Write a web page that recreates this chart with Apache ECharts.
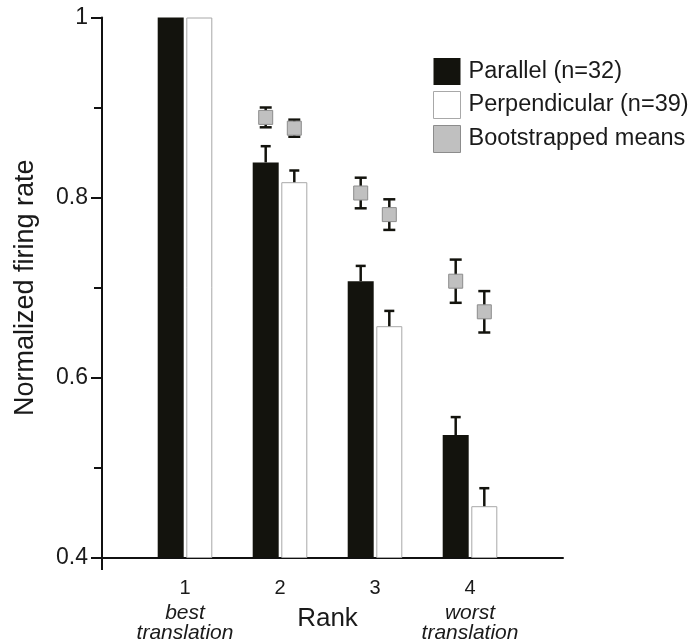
<!DOCTYPE html>
<html>
<head>
<meta charset="utf-8">
<script src="https://cdn.jsdelivr.net/npm/echarts@6/dist/echarts.min.js"></script>
<style>html,body{margin:0;padding:0;background:#fff;}#c{width:694px;height:644px;}</style>
</head>
<body>
<div id="c"></div>
<script>
// ---- data ----
const ranks = ['1', '2', '3', '4'];
const rankNotes = ['best\ntranslation', '', '', 'worst\ntranslation'];
const parallel = [1.0, 0.839, 0.707, 0.536];
const parallelErr = [0, 0.018, 0.017, 0.020];
const perpendicular = [1.0, 0.817, 0.657, 0.457];
const perpendicularErr = [0, 0.013, 0.017, 0.020];
const bootParallel = [null, 0.889, 0.805, 0.707];
const bootParallelErr = [null, 0.011, 0.017, 0.024];
const bootPerpendicular = [null, 0.877, 0.781, 0.673];
const bootPerpendicularErr = [null, 0.0095, 0.017, 0.023];
const yTicks = [0.4, 0.6, 0.8, 1];

const FONT = '"Liberation Sans", Arial, sans-serif';
const INK = '#13130d';
const BAR_W = 26, GAP = 2.6;
const OFF = (BAR_W + GAP) / 2;

const errData = [];
const bootData = [];
ranks.forEach((r, i) => {
  if (parallelErr[i] > 0) errData.push([i, parallel[i], parallelErr[i], -1]);
  if (perpendicularErr[i] > 0) errData.push([i, perpendicular[i], perpendicularErr[i], 1]);
  if (bootParallel[i] != null) bootData.push([i, bootParallel[i], bootParallelErr[i], -1]);
  if (bootPerpendicular[i] != null) bootData.push([i, bootPerpendicular[i], bootPerpendicularErr[i], 1]);
});

const chart = echarts.init(document.getElementById('c'), null, {renderer: 'canvas'});

const option = {
  animation: false,
  backgroundColor: '#fff',
  textStyle: {fontFamily: FONT, color: '#1a1a1a'},
  legend: {
    orient: 'vertical', left: 428, top: 53,
    itemWidth: 27, itemHeight: 27, itemGap: 6,
    textStyle: {fontSize: 23.5, fontFamily: FONT, color: '#1a1a1a', padding: [0, 0, 0, 3]},
    data: [
      {name: 'Parallel (n=32)', icon: 'rect', itemStyle: {color: INK, borderWidth: 0}},
      {name: 'Perpendicular (n=39)', icon: 'rect', itemStyle: {color: '#fff', borderColor: '#a8a8a8', borderWidth: 1}},
      {name: 'Bootstrapped means', icon: 'rect', itemStyle: {color: '#c0c0c0', borderColor: '#8c8c8c', borderWidth: 1}}
    ]
  },
  grid: [
    {left: 102, right: 131, top: 17.5, bottom: 86},
    {left: 137.5, right: 176.5, top: 17.5, bottom: 86}
  ],
  xAxis: [
    {
      gridIndex: 0, type: 'value', min: 0, max: 1,
      axisLine: {show: true, lineStyle: {color: '#111', width: 2}},
      axisTick: {show: false}, axisLabel: {show: false}, splitLine: {show: false},
      name: 'Rank', nameLocation: 'middle', nameGap: 48,
      nameTextStyle: {fontSize: 26, fontFamily: FONT, color: '#1a1a1a', padding: [0, 10, 0, 0]}
    },
    {
      gridIndex: 1, type: 'category', data: ranks,
      axisLine: {show: false}, axisTick: {show: false}, splitLine: {show: false},
      axisLabel: {
        margin: 15, interval: 0,
        formatter: function (v, i) {
          let s = '{n|' + v + '}';
          if (rankNotes[i]) s += '\n' + rankNotes[i].split('\n').map(t => '{i|' + t + '}').join('\n');
          return s;
        },
        rich: {
          n: {fontSize: 20, lineHeight: 31, fontFamily: FONT, color: '#1a1a1a'},
          i: {fontSize: 21, lineHeight: 20, fontStyle: 'italic', fontFamily: FONT, color: '#1a1a1a'}
        }
      }
    }
  ],
  yAxis: [
    {
      gridIndex: 0, type: 'value', min: 0.4, max: 1, interval: 0.2,
      axisLine: {show: true, lineStyle: {color: '#111', width: 2}},
      axisTick: {show: true, length: 11, lineStyle: {color: '#111', width: 2}},
      minorTick: {show: true, splitNumber: 2, length: 8, lineStyle: {color: '#111', width: 2}},
      splitLine: {show: false},
      axisLabel: {
        fontSize: 23, margin: 14, color: '#1a1a1a', fontFamily: FONT,
        formatter: function (v) {
          const t = yTicks.find(x => Math.abs(x - v) < 1e-6);
          return t === undefined ? '' : String(t);
        }
      },
      name: 'Normalized firing rate', nameLocation: 'middle', nameGap: 63,
      nameTextStyle: {fontSize: 27, fontFamily: FONT, color: '#1a1a1a'}
    },
    {
      gridIndex: 1, type: 'value', min: 0.4, max: 1, interval: 0.2, show: false
    }
  ],
  series: [
    {
      name: 'Parallel (n=32)', type: 'bar', xAxisIndex: 1, yAxisIndex: 1,
      data: parallel, barWidth: BAR_W, barGap: '10%',
      itemStyle: {color: INK}
    },
    {
      name: 'Perpendicular (n=39)', type: 'bar', xAxisIndex: 1, yAxisIndex: 1,
      data: perpendicular, barWidth: BAR_W, barGap: '10%',
      itemStyle: {color: '#fff', borderColor: '#a8a8a8', borderWidth: 1}
    },
    {
      name: 'errors', type: 'custom', xAxisIndex: 1, yAxisIndex: 1, z: 5,
      data: errData,
      renderItem: function (params, api) {
        const i = api.value(0), v = api.value(1), e = api.value(2), side = api.value(3);
        const base = api.coord([i, v]);
        const top = api.coord([i, v + e]);
        const x = base[0] + side * OFF;
        const st = {stroke: INK, lineWidth: 2.5};
        return {
          type: 'group',
          children: [
            {type: 'line', shape: {x1: x, y1: base[1], x2: x, y2: top[1]}, style: st},
            {type: 'line', shape: {x1: x - 5, y1: top[1], x2: x + 5, y2: top[1]}, style: st}
          ]
        };
      }
    },
    {
      name: 'Bootstrapped means', type: 'custom', xAxisIndex: 1, yAxisIndex: 1, z: 6,
      data: bootData,
      itemStyle: {color: '#c0c0c0'},
      renderItem: function (params, api) {
        const i = api.value(0), v = api.value(1), e = api.value(2), side = api.value(3);
        const c = api.coord([i, v]);
        const hi = api.coord([i, v + e]);
        const lo = api.coord([i, v - e]);
        const x = c[0] + side * OFF;
        const st = {stroke: INK, lineWidth: 2.5};
        return {
          type: 'group',
          children: [
            {type: 'line', shape: {x1: x, y1: hi[1], x2: x, y2: lo[1]}, style: st},
            {type: 'line', shape: {x1: x - 6, y1: hi[1], x2: x + 6, y2: hi[1]}, style: st},
            {type: 'line', shape: {x1: x - 6, y1: lo[1], x2: x + 6, y2: lo[1]}, style: st},
            {type: 'rect', shape: {x: x - 7, y: c[1] - 7, width: 14, height: 14},
             style: {fill: '#c0c0c0', stroke: '#8c8c8c', lineWidth: 1}}
          ]
        };
      }
    }
  ]
};
chart.setOption(option);

// y-axis line continues a little below the x-axis
const p0 = chart.convertToPixel({xAxisIndex: 0, yAxisIndex: 0}, [0, 0.4]);
chart.setOption({
  graphic: [{
    type: 'line', silent: true,
    shape: {x1: p0[0], y1: p0[1], x2: p0[0], y2: p0[1] + 12},
    style: {stroke: '#111', lineWidth: 2}
  }]
});
</script>
</body>
</html>
